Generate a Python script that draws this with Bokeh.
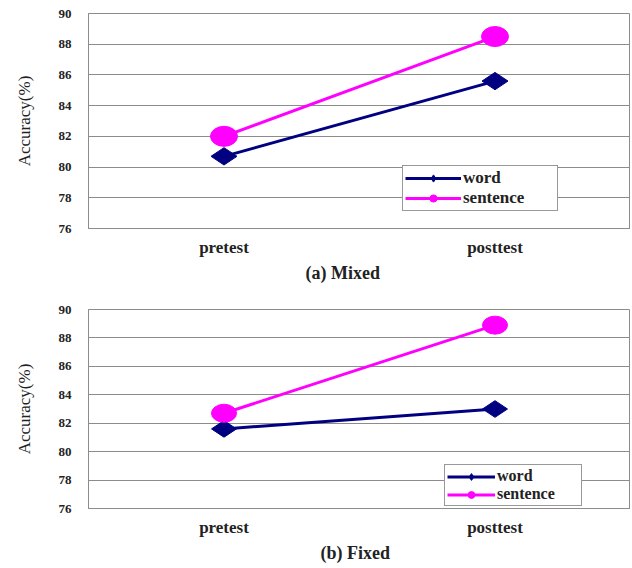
import math
from bokeh.plotting import figure
from bokeh.layouts import column
from bokeh.models import Legend, LegendItem, Title, FixedTicker
from bokeh.embed import file_html
from bokeh.resources import INLINE

phases = ["pretest", "posttest"]
mixed_word = [80.7, 85.6]
mixed_sentence = [82.0, 88.5]
fixed_word = [81.6, 83.0]
fixed_sentence = [82.7, 88.9]
y_ticks = [76, 78, 80, 82, 84, 86, 88, 90]
series_names = ["word", "sentence"]
panel_titles = ["(a) Mixed", "(b) Fixed"]

NAVY = "#000080"
PINK = "#FF00FF"
GRAY = "#8c8c8c"
SERIF = "Liberation Serif"


def make(word, sent, title, height, top, bottom, leg_loc, glyph_w, label_w, label_h,
         leg_font, msize, title_off):
    p = figure(x_range=phases, y_range=(76, 90), width=630, height=height,
               output_backend="svg", toolbar_location=None,
               min_border_left=88, min_border_right=0,
               min_border_top=top, min_border_bottom=bottom)
    p.outline_line_color = GRAY
    p.xgrid.grid_line_color = None
    p.ygrid.grid_line_color = GRAY
    p.ygrid.ticker = FixedTicker(ticks=y_ticks)
    p.yaxis.ticker = FixedTicker(ticks=y_ticks)
    for ax in (p.xaxis[0], p.yaxis[0]):
        ax.axis_line_color = GRAY
        ax.major_tick_line_color = None
        ax.minor_tick_line_color = None
        ax.major_label_text_font = SERIF
        ax.major_label_text_font_style = "bold"
        ax.major_label_text_color = "#222222"
    p.yaxis.major_label_text_font_size = "13px"
    p.xaxis.major_label_text_font_size = "17px"
    p.xaxis.major_label_standoff = 3
    p.yaxis.major_label_standoff = 11
    p.yaxis.axis_label = "Accuracy(%)"
    p.yaxis.axis_label_text_font = SERIF
    p.yaxis.axis_label_text_font_style = "normal"
    p.yaxis.axis_label_text_font_size = "17px"
    p.yaxis.axis_label_text_color = "#222222"
    p.yaxis.axis_label_standoff = 22

    wl = p.line(phases, word, line_color=NAVY, line_width=3)
    sl = p.line(phases, sent, line_color=PINK, line_width=3)
    ws = p.scatter(phases, word, marker="diamond", size=msize[0], angle=math.pi / 2,
                   fill_color=NAVY, line_color=NAVY)
    ss = p.scatter(phases, sent, marker="circle", size=10, fill_color=PINK, line_color=PINK)
    p.ellipse(phases, sent, width=msize[1], height=msize[2], width_units="screen",
              height_units="screen", fill_color=PINK, line_color=PINK)

    leg = Legend(items=[LegendItem(label=series_names[0], renderers=[wl, ws]),
                        LegendItem(label=series_names[1], renderers=[sl, ss])],
                 location=leg_loc)
    leg.label_text_font = SERIF
    leg.label_text_font_style = "bold"
    leg.label_text_font_size = leg_font
    leg.label_text_color = "#222222"
    leg.border_line_color = "#333333"
    leg.border_line_width = 1
    leg.padding = 2
    leg.spacing = 0
    leg.margin = 0
    leg.glyph_width = glyph_w
    leg.glyph_height = label_h
    leg.label_height = label_h
    leg.label_width = label_w
    leg.label_standoff = 2
    leg.background_fill_alpha = 1
    p.add_layout(leg, "center")

    t = Title(text=title, align="left", offset=title_off, text_font=SERIF,
              text_font_style="bold", text_font_size="18px", text_color="#222222",
              standoff=2)
    p.add_layout(t, "below")
    return p


p1 = make(mixed_word, mixed_sentence, panel_titles[0], 285, 13, 57, (314, 17), 56, 92, 18,
          "17px", (26, 27, 20), 217)
p2 = make(fixed_word, fixed_sentence, panel_titles[1], 278, 24, 50, (356, 2), 48, 82, 17,
          "16px", (25, 25, 18), 232)

layout = column(p1, p2, spacing=0)
open("out.html", "w").write(file_html(layout, INLINE))
